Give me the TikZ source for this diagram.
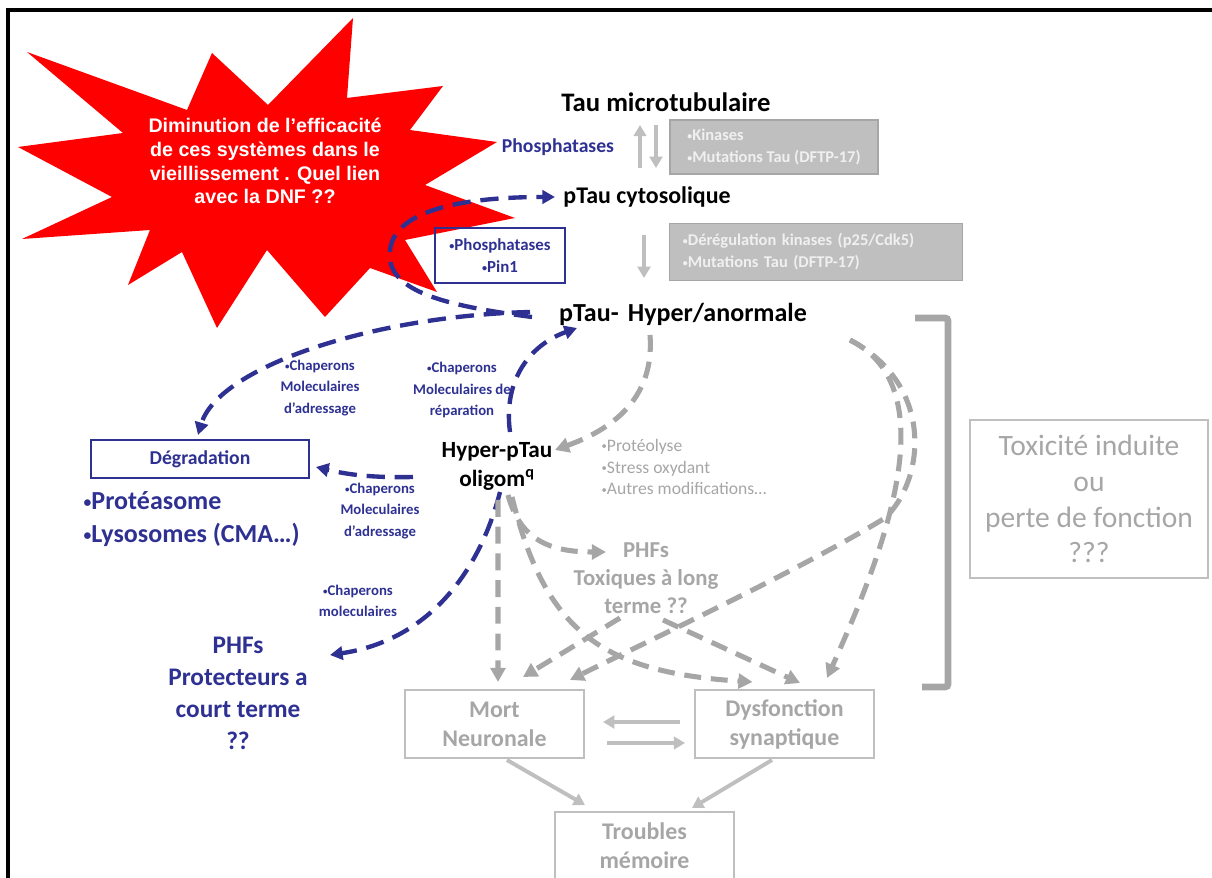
\documentclass[tikz,border=0pt]{standalone}
\usepackage{fontspec}
\setmainfont{Carlito}
\newfontfamily\starfont{Liberation Sans}
\usetikzlibrary{arrows.meta,calc}
\definecolor{navy}{HTML}{2E3192}
\definecolor{ash}{HTML}{A6A6A6}
\definecolor{ashlt}{HTML}{BFBFBF}
\definecolor{alarm}{HTML}{FF0000}
\newcommand{\itm}{\raisebox{0.15ex}{\scalebox{0.6}{\textbullet}}}
\tikzset{
  taustage/.style={
    inner sep=1pt, align=center, text=black
  },
  chaplabel/.style={
    inner sep=1pt, align=center, text=navy,
    font=\bfseries\fontsize{10.5}{15}\selectfont
  },
  causebox/.style={
    rectangle, draw=ash, fill=ashlt, line width=0.8pt,
    text=white!94!black, align=left, inner xsep=0.33cm, inner ysep=0pt,
    font=\bfseries\fontsize{11.7}{15.5}\selectfont
  },
  navybox/.style={
    rectangle, draw=navy, line width=1.5pt, text=navy,
    align=center, inner sep=0pt
  },
  outcomebox/.style={
    rectangle, draw=ashlt, line width=1pt, text=ash, align=center,
    font=\bfseries\fontsize{17}{20.6}\selectfont,
    minimum width=4.475cm, minimum height=1.7cm, inner sep=0pt
  },
  navyflow/.style={
    -{Triangle[length=9pt,width=9.5pt]}, navy,
    line width=3.1pt, dash pattern=on 13pt off 7pt
  },
  ashflow/.style={
    -{Triangle[length=10pt,width=10.5pt]}, ash,
    line width=3.6pt, dash pattern=on 12pt off 7pt
  },
  ashsolid/.style={
    -{Triangle[length=8pt,width=9pt]}, ashlt, line width=2.8pt
  },
}

\begin{document}
\begin{tikzpicture}[x=0.025cm,y=-0.025cm]
  \path[use as bounding box, clip] (0,0) rectangle (1212,878);
  % Frame
  \draw[line width=2.2pt] (8,878) -- (8,10) -- (1212,10);

  % Starburst
  \fill[alarm] (27,52) -- (187,110) -- (212,53) -- (268,105) -- (353,18)
    -- (347,98) -- (443,86) -- (410,130) -- (497,142) -- (425,185)
    -- (515,218) -- (405,240) -- (437,292) -- (370,268) -- (325,317)
    -- (267,250) -- (217,328) -- (182,252) -- (128,285) -- (150,230)
    -- (22,239) -- (112,197) -- (18,147) -- (123,133) -- cycle;
  \node[text=white, align=center, inner sep=0pt,
        font=\starfont\bfseries\fontsize{14}{17}\selectfont] (ageing) at (265,161)
    {Diminution de l’efficacité\\de ces systèmes dans le\\vieillissement . Quel lien\\avec la DNF ??};

  % Tau states
  \node[taustage, font=\bfseries\fontsize{19}{22}\selectfont] (taumt) at (666,102) {Tau microtubulaire};
  \node[taustage, font=\bfseries\fontsize{17}{20}\selectfont] (ptcyto) at (647,197) {pTau cytosolique};
  \node[taustage, font=\bfseries\fontsize{18.5}{22}\selectfont] (pthyper) at (683,314) {pTau-\hspace{0.35em}Hyper/anormale};
  \node[taustage, font=\bfseries\fontsize{16.5}{20.6}\selectfont] (oligo) at (497,466) {Hyper-pTau\\oligom\textsuperscript{q}};

  % Regulators
  \node[taustage, text=navy, font=\bfseries\fontsize{14}{17}\selectfont] (phos) at (558,147) {Phosphatases};
  \node[causebox, minimum width=5.2cm, minimum height=1.35cm] (kin) at (774,147)
    {\itm Kinases\\\itm Mutations Tau (DFTP-17)};
  \node[causebox, text width=6.65cm, minimum height=1.425cm] (dereg) at (816,252)
    {\itm Dérégulation kinases (p25/Cdk5)\\\itm Mutations Tau (DFTP-17)};
  \node[navybox, minimum width=3.25cm, minimum height=1.375cm,
        font=\bfseries\fontsize{12}{15.6}\selectfont] (pin) at (500,255.5)
    {\itm Phosphatases\\\itm Pin1};
  \node[inner sep=1pt, align=left, text=ash, anchor=west,
        font=\fontsize{12.5}{15.6}\selectfont] (stress) at (600,467)
    {\itm Protéolyse\\\itm Stress oxydant\\\itm Autres modifications…};

  % Fates
  \node[navybox, minimum width=5.45cm, minimum height=0.95cm,
        font=\bfseries\fontsize{14}{16}\selectfont] (degr) at (200,459) {Dégradation};
  \node[inner sep=1pt, align=left, text=navy, anchor=west,
        font=\bfseries\fontsize{18.5}{24}\selectfont] (sys) at (82,519)
    {\itm Protéasome\\\itm Lysosomes (CMA…)};
  \node[taustage, text=navy, font=\bfseries\fontsize{18}{22.7}\selectfont] (phfprot) at (238,693)
    {PHFs\\Protecteurs a\\court terme\\??};
  \node[taustage, text=ash, font=\bfseries\fontsize{16.2}{19.9}\selectfont] (phftox) at (646,578)
    {PHFs\\Toxiques à long\\terme ??};

  % Chaperon labels
  \node[chaplabel] (chap1) at (320,388) {\itm Chaperons\\Moleculaires\\d’adressage};
  \node[chaplabel] (chap2) at (462,390) {\itm Chaperons\\Moleculaires de\\réparation};
  \node[chaplabel] (chap3) at (380,511) {\itm Chaperons\\Moleculaires\\d’adressage};
  \node[chaplabel] (chap4) at (358,601) {\itm Chaperons\\moleculaires};

  % Outcomes
  \node[outcomebox] (mort) at (494.5,724) {Mort\\Neuronale};
  \node[outcomebox] (dysf) at (784.5,724) {Dysfonction\\synaptique};
  \node[outcomebox, minimum height=1.7cm] (troub) at (644.5,846) {Troubles\\mémoire};
  \node[rectangle, draw=ashlt, line width=1pt, text=ash, align=center,
        minimum width=5.95cm, minimum height=3.95cm, inner sep=0pt,
        font=\fontsize{21}{25.5}\selectfont] (toxi) at (1089,499)
    {Toxicité induite\\ou\\perte de fonction\\???};
  \draw[ash, line width=4.8pt, rounded corners=2pt] (915,318) -- (948,318) -- (948,687) -- (922,687);

  % Phosphorylation
  \draw[ashsolid] ($(ptcyto)+(-7,-29)$) -- ($(taumt)+(-26,23)$);
  \draw[ashsolid] ($(taumt)+(-10,23)$) -- ($(ptcyto)+(9,-29)$);
  \draw[ashsolid] ($(ptcyto)+(-3,38)$) -- ($(pthyper)+(-39,-36)$);

  % Chaperon pathways
  \draw[navyflow] ($(pthyper)+(-151,3)$) .. controls (440,305) and (385,290) .. (390,250)
    .. controls (395,208) and (470,197) .. ($(ptcyto)+(-92,0)$);
  \draw[navyflow] ($(pthyper)+(-153,-2)$) .. controls (370,316) and (218,368) .. ($(degr)+(-2,-24)$);
  \draw[navyflow] ($(oligo)+(13,-34)$) .. controls (503,380) and (530,345) .. ($(pthyper)+(-106,14)$);
  \draw[navyflow] ($(oligo)+(-84,11)$) .. controls (370,478) and (345,474) .. ($(degr)+(116,8)$);
  \draw[navyflow] ($(oligo)+(3,26)$) .. controls (480,570) and (430,640) .. ($(phfprot)+(92,-38)$);

  % Toxic pathways
  \draw[ashflow] ($(pthyper)+(-33,21)$) .. controls (655,400) and (610,430) .. ($(oligo)+(58,-16)$);
  \draw[ashflow] ($(oligo)+(1,34)$) -- ($(mort)+(3.5,-42)$);
  \draw[ashflow] ($(oligo)+(11,29)$) .. controls (520,540) and (550,552) .. ($(phftox)+(-40,-26)$);
  \draw[ashflow] ($(oligo)+(15,31)$) .. controls (545,630) and (600,672) .. ($(dysf)+(-32,-42)$);
  \draw[ashflow] ($(phftox)+(-26,40)$) -- ($(mort)+(28.5,-47)$);
  \draw[ashflow] ($(phftox)+(17,42)$) -- ($(dysf)+(15.5,-41)$);
  \draw[ashflow] ($(pthyper)+(167,26)$) .. controls (950,390) and (880,560) .. ($(dysf)+(42.5,-46)$);
  \draw[ashflow] ($(pthyper)+(167,26)$) .. controls (935,385) and (925,480) .. (885,518)
    .. controls (800,570) and (650,640) .. ($(mort)+(75.5,-44)$);

  % Outcome links
  \draw[ashsolid] ($(dysf)+(-104.5,-2)$) -- ($(mort)+(108.5,-2)$);
  \draw[ashsolid] ($(mort)+(112.5,19)$) -- ($(dysf)+(-99.5,19)$);
  \draw[ashsolid] ($(mort)+(12.5,36)$) -- ($(troub)+(-59.5,-41)$);
  \draw[ashsolid] ($(dysf)+(-12.5,36)$) -- ($(troub)+(47.5,-38)$);
\end{tikzpicture}
\end{document}
